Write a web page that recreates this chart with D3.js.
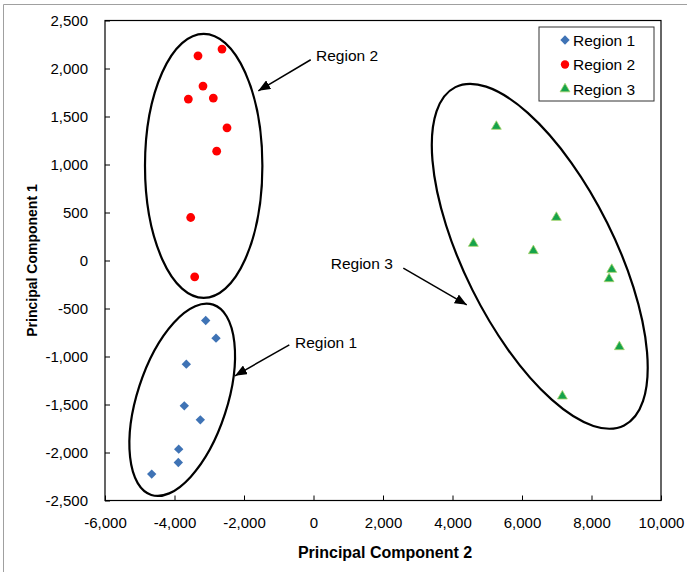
<!DOCTYPE html>
<html>
<head>
<meta charset="utf-8">
<script src="https://cdn.jsdelivr.net/npm/d3@7"></script>
<style>
  body { margin: 0; background: #fff; }
  svg { display: block; font-family: "Liberation Sans", Arial, sans-serif; }
  .tick text { font-size: 15px; fill: #000; }
</style>
</head>
<body>
<svg width="687" height="572"></svg>
<script>
// Region 1 (blue diamonds)
var region1X = [-3102, -2805, -3660, -3718, -3257, -3879, -3890, -4656];
var region1Y = [-625, -809, -1080, -1514, -1660, -1965, -2104, -2225];
// Region 2 (red circles)
var region2X = [-2633, -3324, -3180, -3602, -2883, -2489, -2786, -3534, -3419];
var region2Y = [2202, 2132, 1817, 1681, 1692, 1382, 1139, 448, -170];
// Region 3 (green triangles)
var region3X = [5262, 6989, 4600, 6327, 8583, 8505, 8802, 7162];
var region3Y = [1396, 448, 177, 101, -94, -191, -899, -1413];

var seriesNames = ["Region 1", "Region 2", "Region 3"];
var xTicks = [-6000, -4000, -2000, 0, 2000, 4000, 6000, 8000, 10000];
var yTicks = [-2500, -2000, -1500, -1000, -500, 0, 500, 1000, 1500, 2000, 2500];

// ellipses round each group, in data units (rx along x, ry along y, before rotation)
var ellipses = [
  {cx: -3778, cy: -1451, rx: 1295, ry: 1042, rot: 18},
  {cx: -3160, cy: 986, rx: 1689, ry: 1375, rot: 0},
  {cx: 6511, cy: 44, rx: 2167, ry: 1969, rot: -26.5}
];
// labels with arrows, in data units
var notes = [
  {text: "Region 1", tx: -532, ty: -913, x1: -696, y1: -878, x2: -2259, y2: -1201},
  {text: "Region 2", tx: 73, ty: 2080, x1: -80, y1: 2091, x2: -1588, y2: 1768},
  {text: "Region 3", tx: 496, ty: -90, x1: 2585, y1: -79, x2: 4410, y2: -462}
];

var svg = d3.select("svg");
var margin = {top: 20.5, left: 105, right: 26, bottom: 71.5},
    width = +svg.attr("width") - margin.left - margin.right,
    height = +svg.attr("height") - margin.top - margin.bottom;

var fmt = d3.formatLocale({decimal: ".", thousands: ",", grouping: [3], currency: ["", ""], minus: "-"}).format(",");

// outer frame (only left and top edges visible)
svg.append("path")
    .attr("d", "M3.5,572V4.5H687")
    .attr("fill", "none").attr("stroke", "#a0a0a0");

var x = d3.scaleLinear().domain([-6000, 10000]).range([0, width]);
var y = d3.scaleLinear().domain([-2500, 2500]).range([height, 0]);

var g = svg.append("g")
    .attr("transform", "translate(" + margin.left + "," + margin.top + ")");

g.append("g")
    .attr("transform", "translate(0," + height + ")")
    .call(d3.axisBottom(x).tickValues(xTicks).tickSizeInner(-5).tickSizeOuter(0).tickPadding(17)
      .tickFormat(fmt))
    .call(function(s) { s.select(".domain").remove(); });

g.append("g")
    .call(d3.axisLeft(y).tickValues(yTicks).tickSizeInner(-5).tickSizeOuter(0).tickPadding(17)
      .tickFormat(fmt))
    .call(function(s) { s.select(".domain").remove(); });

g.selectAll(".tick line").attr("stroke", "#000");

g.append("rect")
    .attr("width", width).attr("height", height)
    .attr("fill", "none").attr("stroke", "#000").attr("stroke-width", 1.2);

// axis titles
svg.append("text")
    .attr("x", margin.left + width / 2 + 2).attr("y", 558)
    .attr("text-anchor", "middle")
    .style("font-size", "16px").style("font-weight", "bold")
    .text("Principal Component 2");

svg.append("text")
    .attr("transform", "translate(37," + (margin.top + height / 2) + ") rotate(-90)")
    .attr("text-anchor", "middle")
    .style("font-size", "14px").style("font-weight", "bold")
    .text("Principal Component 1");

// ellipses
var pxPerX = x(1) - x(0), pxPerY = y(0) - y(1);
g.selectAll(".ring")
    .data(ellipses)
  .enter().append("ellipse")
    .attr("class", "ring")
    .attr("transform", function(d) { return "translate(" + x(d.cx) + "," + y(d.cy) + ") rotate(" + d.rot + ")"; })
    .attr("rx", function(d) { return d.rx * pxPerX; })
    .attr("ry", function(d) { return d.ry * pxPerY; })
    .attr("fill", "none").attr("stroke", "#000").attr("stroke-width", 2.2);

// arrows and labels
svg.append("defs").append("marker")
    .attr("id", "head")
    .attr("viewBox", "0 0 12 10").attr("refX", 12).attr("refY", 5)
    .attr("markerWidth", 12).attr("markerHeight", 10)
    .attr("markerUnits", "userSpaceOnUse").attr("orient", "auto")
  .append("path").attr("d", "M0,0L12,5L0,10Z").attr("fill", "#000");

g.selectAll(".arrow")
    .data(notes)
  .enter().append("line")
    .attr("class", "arrow")
    .attr("x1", function(d) { return x(d.x1); })
    .attr("y1", function(d) { return y(d.y1); })
    .attr("x2", function(d) { return x(d.x2); })
    .attr("y2", function(d) { return y(d.y2); })
    .attr("stroke", "#000").attr("stroke-width", 1.5)
    .attr("marker-end", "url(#head)");

g.selectAll(".note")
    .data(notes)
  .enter().append("text")
    .attr("class", "note")
    .attr("x", function(d) { return x(d.tx); })
    .attr("y", function(d) { return y(d.ty); })
    .style("font-size", "15.5px")
    .text(function(d) { return d.text; });

// points
var diamond = d3.symbol().type(d3.symbolDiamond2).size(56);
var tri = d3.symbol().type(d3.symbolTriangle).size(42);

g.selectAll(".r1")
    .data(region1X)
  .enter().append("path")
    .attr("class", "r1")
    .attr("d", diamond)
    .attr("transform", function(d, i) { return "translate(" + x(d) + "," + y(region1Y[i]) + ")"; })
    .attr("fill", "#3f73b5");

g.selectAll(".r2")
    .data(region2X)
  .enter().append("circle")
    .attr("class", "r2")
    .attr("cx", function(d) { return x(d); })
    .attr("cy", function(d, i) { return y(region2Y[i]); })
    .attr("r", 4.4)
    .attr("fill", "#ff0000");

g.selectAll(".r3")
    .data(region3X)
  .enter().append("path")
    .attr("class", "r3")
    .attr("d", tri)
    .attr("transform", function(d, i) { return "translate(" + x(d) + "," + y(region3Y[i]) + ")"; })
    .attr("fill", "#16a34a").attr("stroke", "#a6d36a").attr("stroke-width", 0.8);

// legend
var legend = svg.append("g").attr("transform", "translate(539,27)");
legend.append("rect")
    .attr("width", 115).attr("height", 74)
    .attr("fill", "#fff").attr("stroke", "#333");

var rows = legend.selectAll(".row")
    .data(seriesNames)
  .enter().append("g")
    .attr("class", "row")
    .attr("transform", function(d, i) { return "translate(26," + (13 + i * 24.5) + ")"; });

rows.append("path")
    .attr("d", function(d, i) {
      if (i === 0) return diamond();
      if (i === 1) return d3.symbol().type(d3.symbolCircle).size(55)();
      return tri();
    })
    .attr("fill", function(d, i) { return ["#3f73b5", "#ff0000", "#16a34a"][i]; })
    .attr("stroke", function(d, i) { return i === 2 ? "#a6d36a" : "none"; })
    .attr("stroke-width", 0.8);

rows.append("text")
    .attr("x", 8).attr("dy", "0.36em")
    .style("font-size", "15.5px")
    .text(function(d) { return d; });
</script>
</body>
</html>
